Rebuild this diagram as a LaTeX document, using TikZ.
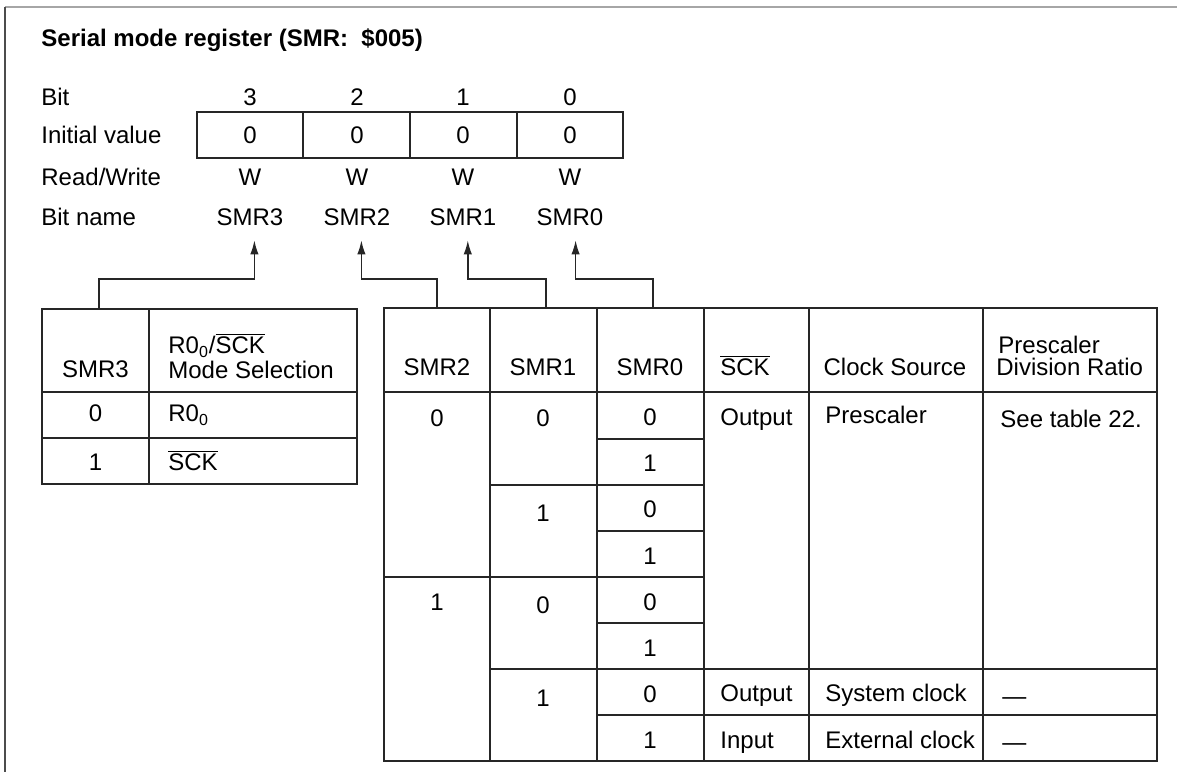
\documentclass[tikz,border=0pt]{standalone}
\usepackage{fontspec}
\setmainfont{Liberation Sans}
\usetikzlibrary{arrows.meta}
\newcommand{\ovl}[1]{$\overline{\mbox{#1}}$}
\tikzset{
    >={Latex[length=7pt,width=4.2pt]}, % small filled arrow heads
    txt/.style={inner sep=0pt, text height=8.6pt, text depth=0pt}, % one line, centred on its capitals
    lft/.style={txt, anchor=west}, % text that starts at the given point
    rule/.style={draw=black!85, line width=0.7pt}, % table lines
    sig/.style={rule, ->, shorten >=7.2pt}, % leader from a table up to its bit name
}

\begin{document}
\begin{tikzpicture}[x=0.5pt, y=-0.5pt, font=\fontsize{12}{14.4}\selectfont]
\useasboundingbox (0,0) rectangle (1177,772);
\draw[black!35, line width=1pt] (5,7) -- (1177,7);
\draw[black!70, line width=1pt] (5,7) -- (5,772);

\node[lft, font=\fontsize{12}{14.4}\selectfont\bfseries] (title) at (41,38) {Serial mode register (SMR:\ \ \$005)};

% register
\node[lft] (lbit) at (41,97) {Bit};
\node[lft] (linit) at (41,135) {Initial value};
\node[lft] (lrw) at (41,177) {Read/Write};
\node[lft] (lname) at (41,217) {Bit name};
\draw[rule] (197,112) rectangle (623,158);
\foreach \x in {303,410,517} \draw[rule] (\x,112) -- (\x,158);
\foreach \b/\x in {3/250,2/357,1/463,0/570} {
    \node[txt] (bit\b) at (\x,97) {\b};
    \node[txt] (iv\b) at (\x,135) {0};
    \node[txt] (rw\b) at (\x,177) {W};
    \node[txt] (nm\b) at (\x,217) {SMR\b};
}

% left table: SMR3
\draw[rule] (42,309) rectangle (357,484);
\draw[rule] (149,309) -- (149,484);
\draw[rule] (42,392) -- (357,392) (42,438) -- (357,438);
\node[txt] (hsmr3) at (95.5,369) {SMR3};
\node[lft] (hmode) at (168,345) {R0\textsubscript{0}/\ovl{SCK}};
\node[lft] (hsel) at (168,370) {Mode Selection};
\node[txt] (m0) at (95.5,413) {0};
\node[lft] (mr0) at (168,413) {R0\textsubscript{0}};
\node[txt] (m1) at (95.5,462) {1};
\node[lft] (msck) at (168,462) {\ovl{SCK}};

% right table: SMR2..SMR0
\draw[rule] (384,308) rectangle (1157,761);
\foreach \x in {490,597,704,809,983} \draw[rule] (\x,308) -- (\x,761);
\draw[rule] (384,392) -- (1157,392);
\foreach \y in {439,485,531,577,623,669,715} \draw[rule] (597,\y) -- (704,\y);
\foreach \y in {485,577,669} \draw[rule] (490,\y) -- (597,\y);
\draw[rule] (384,577) -- (490,577);
\draw[rule] (704,669) -- (1157,669) (704,715) -- (1157,715);

\node[txt] (hsmr2) at (437,367) {SMR2};
\node[txt] (hsmr1) at (543,367) {SMR1};
\node[txt] (hsmr0) at (650,367) {SMR0};
\node[lft] (hsck) at (720,367) {\ovl{SCK}};
\node[txt] (hsrc) at (895,367) {Clock Source};
\node[lft] (hpre) at (998,345) {Prescaler};
\node[lft] (hdiv) at (996,367) {Division Ratio};

\foreach \v [count=\i] in {0,1,0,1,0,1,0,1}
    \node[txt] (s0\i) at (650,{371+46.1*\i}) {\v};
\node[txt] (s2a) at (437,418) {0};
\node[txt] (s2b) at (437,602) {1};
\node[txt] (s1a) at (543,418) {0};
\node[txt] (s1b) at (543,513) {1};
\node[txt] (s1c) at (543,605) {0};
\node[txt] (s1d) at (543,698) {1};

\node[lft] (ka) at (720,417) {Output};
\node[lft] (ca) at (825,415) {Prescaler};
\node[lft] (pa) at (1000,419) {See table 22.};
\node[lft] (kb) at (720,693) {Output};
\node[lft] (cb) at (825,693) {System clock};
\node[lft] (pb) at (1002,696) {---};
\node[lft] (kc) at (720,740) {Input};
\node[lft] (cc) at (825,740) {External clock};
\node[lft] (pc) at (1002,742) {---};

% leaders from the tables up to the bit names
\coordinate (t3) at (99,309);
\coordinate (t2) at (437,308);
\coordinate (t1) at (546,308);
\coordinate (t0) at (653,308);
\draw[sig] (t3) -- ++(0,-30) -| ([xshift=2.2pt]nm3.south);
\draw[sig] (t2) -- ++(0,-29) -| ([xshift=2.2pt]nm2.south);
\draw[sig] (t1) -- ++(0,-29) -| ([xshift=2.4pt]nm1.south);
\draw[sig] (t0) -- ++(0,-29) -| ([xshift=2.8pt]nm0.south);
\end{tikzpicture}
\end{document}
